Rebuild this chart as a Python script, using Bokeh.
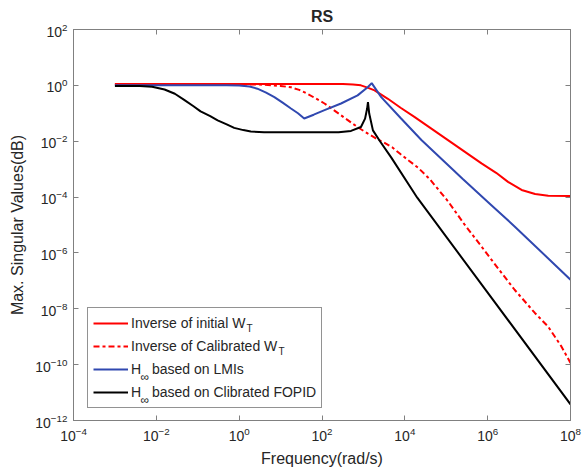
from bokeh.plotting import figure
from bokeh.models import (Range1d, LogAxis, FixedTicker, Legend, LegendItem,
                          Label, CustomJSTickFormatter)
from bokeh.embed import file_html
from bokeh.resources import INLINE

# Max. singular value curves versus frequency (rad/s)
freq_init = [1e-3, 3.2e2, 5.6e2, 8.7e2, 1.26e3, 1.86e3, 3.9e3, 7.9e3, 1.7e4,
             1.1e5, 7.1e5, 1.6e6, 3.1e6, 6.6e6, 1.4e7, 2.9e7, 1e8]
mag_init = [1.12, 1.12, 1.07, 1.0, 0.83, 0.66, 0.33, 0.158, 0.074,
            1.1e-2, 1.6e-3, 7.4e-4, 3.5e-4, 1.8e-4, 1.29e-4, 1.12e-4, 1.1e-4]

freq_calib = [1e-3, 3.16, 10, 17.8, 28.2, 44.7, 115, 288, 724, 1259, 1995,
              3162, 5012, 7943, 12589, 20893, 39811, 1.1e5, 2.75e5, 7.08e5,
              1.78e6, 4.47e6, 1.38e7, 2.88e7, 6.03e7, 1e8]
mag_calib = [1.10, 1.07, 0.955, 0.85, 0.69, 0.50, 0.224, 0.085, 0.032, 0.019,
             0.0126, 8.9e-3, 6.0e-3, 3.4e-3, 2.0e-3, 1.12e-3, 4.4e-4, 7.1e-5,
             1.05e-5, 1.7e-6, 2.8e-7, 4.8e-8, 7.1e-9, 2.3e-9, 4.5e-10, 1.15e-10]

freq_lmi = [1e-3, 0.5, 1.0, 1.78, 2.75, 4.47, 7.08, 11.2, 17.8, 26.3, 37.2,
            63.1, 115, 288, 724, 1288, 1585, 2692, 8128, 25119, 2.51e5,
            1.23e6, 4.47e6, 1e8]
mag_lmi = [1.0, 1.0, 0.98, 0.91, 0.76, 0.55, 0.38, 0.24, 0.148, 0.10, 0.065,
           0.089, 0.129, 0.224, 0.437, 0.87, 1.2, 0.38, 0.065, 0.011, 4.4e-4,
           5.1e-5, 8.9e-6, 1.1e-7]

freq_fopid = [1e-3, 4.0e-3, 7.9e-3, 1.58e-2, 2.8e-2, 4.7e-2, 7.9e-2, 0.117,
              0.2, 0.302, 0.5, 0.759, 1.26, 1.91, 4.0, 251, 501, 871, 1096,
              1230, 1288, 1380, 1698, 2512, 4677, 19953, 1e8]
mag_fopid = [0.955, 0.955, 0.89, 0.71, 0.5, 0.302, 0.178, 0.117, 0.079,
             0.056, 0.04, 0.030, 0.025, 0.0224, 0.0209, 0.0209, 0.0234,
             0.0324, 0.0646, 0.148, 0.251, 0.0977, 0.0245, 0.01, 2.63e-3,
             9.5e-5, 3.8e-12]

x_ticks = [1e-4, 1e-2, 1e0, 1e2, 1e4, 1e6, 1e8]
y_ticks = [1e-12, 1e-10, 1e-8, 1e-6, 1e-4, 1e-2, 1e0, 1e2]

FONT = "Liberation Sans"
TEXT = "#262626"
AXIS = "#808080"
RED = "#ff0000"
BLUE = "#3048b0"
BLACK = "#000000"

p = figure(width=582, height=476, x_axis_type="log", y_axis_type="log",
           x_range=Range1d(1e-4, 1e8), y_range=Range1d(1e-12, 1e2),
           output_backend="svg", toolbar_location=None,
           min_border_left=73, min_border_right=12,
           min_border_top=29, min_border_bottom=56)

p.title.text = "RS"
p.title.align = "center"
p.title.text_font = FONT
p.title.text_font_size = "16px"
p.title.text_font_style = "bold"
p.title.text_color = TEXT

p.grid.visible = False
p.outline_line_color = AXIS
p.background_fill_color = "white"
p.border_fill_color = "white"

p.xaxis.ticker = FixedTicker(ticks=x_ticks, minor_ticks=[])
p.yaxis.ticker = FixedTicker(ticks=y_ticks, minor_ticks=[])
p.xaxis.axis_label = "Frequency(rad/s)"
p.yaxis.axis_label = "Max. Singular Values(dB)"

for ax in (p.xaxis[0], p.yaxis[0]):
    ax.axis_label_text_font = FONT
    ax.axis_label_text_font_size = "16px"
    ax.axis_label_text_font_style = "normal"
    ax.axis_label_text_color = TEXT
    ax.major_label_text_font = FONT
    ax.major_label_text_font_size = "14px"
    ax.major_label_text_color = TEXT
    ax.axis_line_color = AXIS
    ax.major_tick_line_color = AXIS
    ax.major_tick_in = 5
    ax.major_tick_out = 0
    ax.minor_tick_line_color = None
    ax.major_label_standoff = 6
    ax.axis_label_standoff = 6

# Box ticks on the top and right edges
blank = CustomJSTickFormatter(code="return ''")
top = LogAxis(ticker=FixedTicker(ticks=x_ticks, minor_ticks=[]), formatter=blank)
right = LogAxis(ticker=FixedTicker(ticks=y_ticks, minor_ticks=[]), formatter=blank)
for ax in (top, right):
    ax.axis_line_color = AXIS
    ax.major_tick_line_color = AXIS
    ax.major_tick_in = 5
    ax.major_tick_out = 0
    ax.minor_tick_line_color = None
    ax.major_label_standoff = 0
    ax.major_label_text_font_size = "1px"
p.add_layout(top, "above")
p.add_layout(right, "right")

r1 = p.line(freq_init, mag_init, line_color=RED, line_width=2)
r2 = p.line(freq_calib, mag_calib, line_color=RED, line_width=2,
            line_dash="6 3 3 3")
r3 = p.line(freq_lmi, mag_lmi, line_color=BLUE, line_width=2)
r4 = p.line(freq_fopid, mag_fopid, line_color=BLACK, line_width=2)

legend = Legend(items=[
    LegendItem(label="Inverse of initial W", renderers=[r1]),
    LegendItem(label="Inverse of Calibrated W", renderers=[r2]),
    LegendItem(label="H\u2002 based on LMIs", renderers=[r3]),
    LegendItem(label="H\u2002 based on Clibrated FOPID", renderers=[r4]),
], location=(14, 12))
legend.label_text_font = FONT
legend.label_text_font_size = "14px"
legend.label_text_color = TEXT
legend.glyph_width = 35
legend.glyph_height = 20
legend.label_height = 20
legend.spacing = 3
legend.padding = 5
legend.margin = 0
legend.label_standoff = 3
legend.border_line_color = TEXT
legend.border_line_width = 1
# transparent so the subscripts drawn beneath stay visible
legend.background_fill_alpha = 0
p.add_layout(legend, "center")

# Subscripts within the legend entries (frame pixels)
subs = [("T", 173, 92, "10px"), ("T", 205, 69, "10px"),
        ("\u221e", 67, 44, "12px"), ("\u221e", 67, 21, "12px")]
for txt, sx, sy, size in subs:
    p.add_layout(Label(x=sx, y=sy, x_units="screen", y_units="screen",
                       text=txt, text_font=FONT, text_font_size=size,
                       text_color=TEXT, text_baseline="middle"))

open("out.html", "w").write(file_html(p, INLINE))
